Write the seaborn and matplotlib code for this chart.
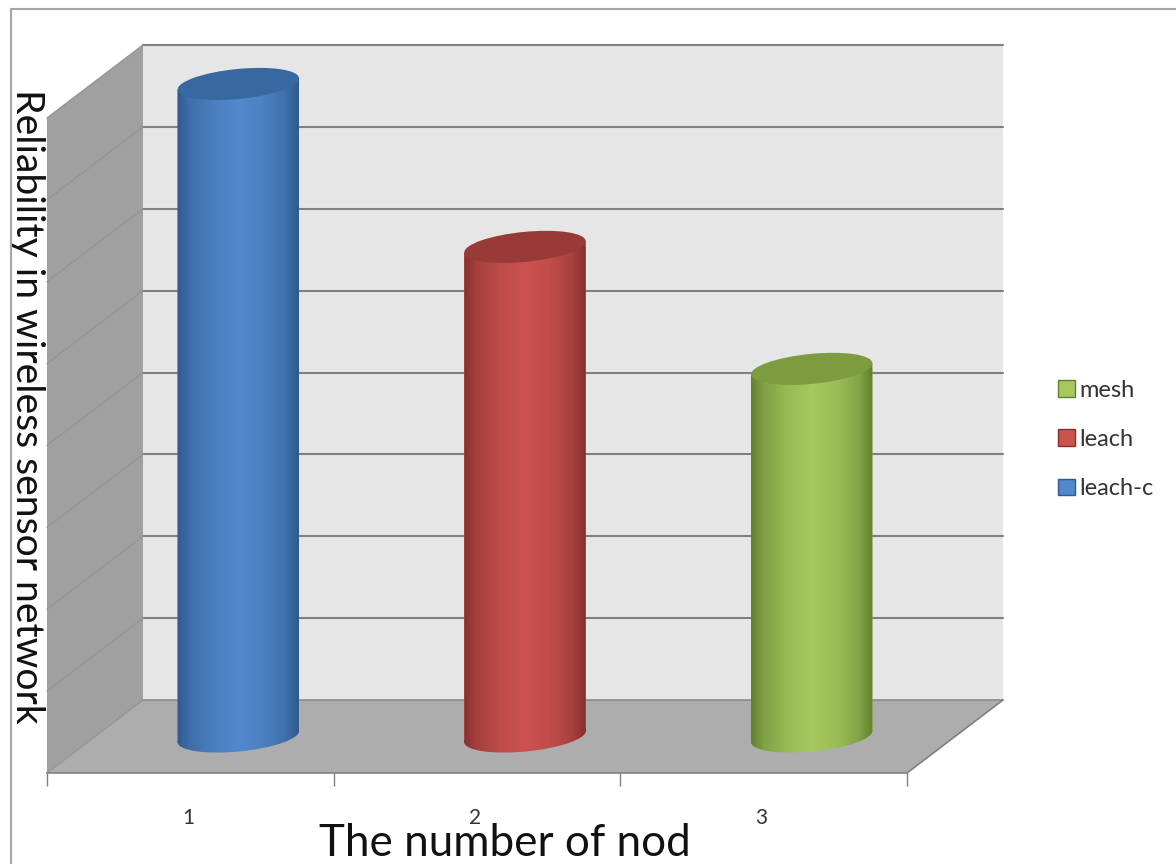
import numpy as np
import pandas as pd
import matplotlib
matplotlib.use('Agg')
import matplotlib.pyplot as plt
import seaborn as sns
from matplotlib.colors import LinearSegmentedColormap, to_rgb
from matplotlib.lines import Line2D
from matplotlib.patches import Polygon, PathPatch
from matplotlib.path import Path
from matplotlib.transforms import Affine2D, IdentityTransform

# values
categories = ['1', '2', '3']
series = ['leach-c', 'leach', 'mesh']
reliability = [7.97, 5.98, 4.49]
grid_levels = [1, 2, 3, 4, 5, 6, 7, 8]

base_colors = ['#5288cc', '#cc5250', '#a5c95f']
edge_colors = ['#2f5a8c', '#86302e', '#62802f']
cap_colors = ['#37689f', '#983a37', '#7d9c40']

W, H = 1176, 864
X0, X1, Y_FRONT, PLOT_H = 47, 907, 773, 655
DEPTH_X, DEPTH_Y = 96, 73
CYL_W, CYL_H, TILT = 122, 30, 5.6

sns.set_theme(style='white')
plt.rcParams['font.family'] = ['Lato', 'DejaVu Sans']

fig = plt.figure(figsize=(W / 100, H / 100), dpi=100, facecolor='white')
ax = fig.add_axes([X0 / W, (H - Y_FRONT) / H, (X1 - X0) / W, PLOT_H / H])

df = pd.DataFrame({'nodes': categories, 'series': series, 'reliability': reliability})
sns.barplot(data=df, x='nodes', y='reliability', hue='series', hue_order=series,
            palette=base_colors, dodge=False, width=CYL_W / 286.67, saturation=1,
            linewidth=0, ax=ax, zorder=4)
handles, labels = ax.get_legend_handles_labels()

ax.set_xlim(-0.5, 2.5)
ax.set_ylim(0, 8)

# the depth of the 3d box, in data units
dx = DEPTH_X * 3 / (X1 - X0)
dy = DEPTH_Y * 8 / PLOT_H


def walls():
    left, right = -0.5, 2.5
    back = Polygon([(left + dx, dy), (right + dx, dy), (right + dx, 8 + dy), (left + dx, 8 + dy)],
                   fc='#e6e6e6', ec='none', zorder=1, clip_on=False)
    side = Polygon([(left, 0), (left + dx, dy), (left + dx, 8 + dy), (left, 8)],
                   fc='#a0a0a0', ec='none', zorder=1, clip_on=False)
    floor = Polygon([(left, 0), (left + dx, dy), (right + dx, dy), (right, 0)],
                    fc='#adadad', ec='none', zorder=1, clip_on=False)
    for p in [back, side, floor]:
        ax.add_patch(p)
    for lev in grid_levels:
        ax.plot([left + dx, right + dx], [lev + dy, lev + dy], color='#7f7f7f', lw=1.5,
                zorder=2, clip_on=False)
        ax.plot([left, left + dx], [lev, lev + dy], color='#959595', lw=1, zorder=2, clip_on=False)
    ax.plot([left + dx, right + dx], [dy, dy], color='#8a8a8a', lw=1.2, zorder=2, clip_on=False)
    ax.plot([left, left + dx], [0, dy], color='#959595', lw=1, zorder=2, clip_on=False)
    ax.plot([right, right + dx], [0, dy], color='#808080', lw=1.2, zorder=2, clip_on=False)


def ellipse_tf(cx, cy):
    return Affine2D().scale(CYL_W / 2, CYL_H / 2).rotate_deg(TILT).translate(cx, cy)


def blend(a, b, t):
    return tuple((1 - t) * np.array(to_rgb(a)) + t * np.array(to_rgb(b)))


def cylinders():
    # bars stand half way into the box
    shift = Affine2D().translate(DEPTH_X / 2, DEPTH_Y / 2)
    for bar, base, edge, cap in zip(ax.patches[:3], base_colors, edge_colors, cap_colors):
        x, w, h = bar.get_x(), bar.get_width(), bar.get_height()
        (cx, y0), (_, y1) = shift.transform(ax.transData.transform([(x + w / 2, 0), (x + w / 2, h)]))

        # side walls go through the tips of the tilted end ellipses
        low = ellipse_tf(cx, y0).transform([(-1, 0), (1, 0)])
        high = ellipse_tf(cx, y1).transform([(1, 0), (-1, 0)])
        side = Path(np.vstack([low, high, low[:1]]), closed=True)
        body = Path.make_compound_path(side, Path.unit_circle().transformed(ellipse_tf(cx, y0)))

        bar.set_transform(ax.transData + shift)
        bar.set_clip_box(fig.bbox)
        bar.set_clip_path(body, IdentityTransform())

        cmap = LinearSegmentedColormap.from_list('cyl', [
            (0, edge), (0.1, blend(edge, base, 0.45)), (0.3, blend(edge, base, 0.8)), (0.5, base),
            (0.7, blend(edge, base, 0.85)), (0.88, blend(edge, base, 0.5)), (1, edge)], N=256)
        shade = np.linspace(0, 1, 256)[None, :]
        im = ax.imshow(shade, cmap=cmap, aspect='auto', zorder=5,
                       extent=(x, x + w, -1, h + 1), transform=ax.transData + shift)
        im.set_clip_box(fig.bbox)
        im.set_clip_path(body, IdentityTransform())

        ax.add_patch(PathPatch(Path.unit_circle(), transform=ellipse_tf(cx, y1),
                               fc=cap, ec='none', zorder=6, clip_on=False))


walls()
cylinders()
ax.set_xlim(-0.5, 2.5)
ax.set_ylim(0, 8)

# axes
sns.despine(ax=ax, left=True, top=True, right=True)
ax.spines['bottom'].set_color('#808080')
ax.spines['bottom'].set_linewidth(1.2)
ax.set_yticks([])
ax.set_xticks([-0.5, 0.5, 1.5, 2.5], minor=True)
ax.set_xticks([0, 1, 2], categories)
ax.tick_params(axis='x', which='minor', length=9, width=1, color='#808080', bottom=True)
ax.tick_params(axis='x', which='major', length=0, pad=25, labelsize=15, labelcolor='#333333')
for tick in ax.xaxis.get_major_ticks():
    tick.label1.set_transform(tick.label1.get_transform() + Affine2D().translate(-2, 0))

ax.set_xlabel('The number of nod', fontsize=31.7, color='#111111')
ax.xaxis.set_label_coords((505 - X0) / (X1 - X0), -(844 - Y_FRONT) / PLOT_H, transform=ax.transAxes)
ax.xaxis.label.set_va('center')
ax.set_ylabel('Reliability in wireless sensor network', fontsize=28.2, rotation=270, color='#111111')
ax.yaxis.set_label_coords((27 - X0) / (X1 - X0), (Y_FRONT - 406) / PLOT_H, transform=ax.transAxes)
ax.yaxis.label.set_va('center')
ax.yaxis.label.set_ha('center')

# legend runs the other way round
leg = ax.legend(handles[::-1], labels[::-1], loc='center left', frameon=False,
                bbox_to_anchor=((1058 - X0) / (X1 - X0), (Y_FRONT - 439.5) / PLOT_H),
                fontsize=17, labelcolor='#333333', handlelength=0.72, handleheight=0.72,
                handletextpad=0.2, labelspacing=1.2, borderpad=0, borderaxespad=0)
for patch, edge in zip(leg.get_patches(), edge_colors[::-1]):
    patch.set_edgecolor(edge)
    patch.set_linewidth(1)

# outer chart frame, open to the right and bottom of the image
fig.add_artist(Line2D([11 / W, 11 / W, 1], [0, 1 - 9 / H, 1 - 9 / H], color='#a6a6a6', lw=1.5))

fig.savefig('out.png', dpi=100, facecolor='white')
